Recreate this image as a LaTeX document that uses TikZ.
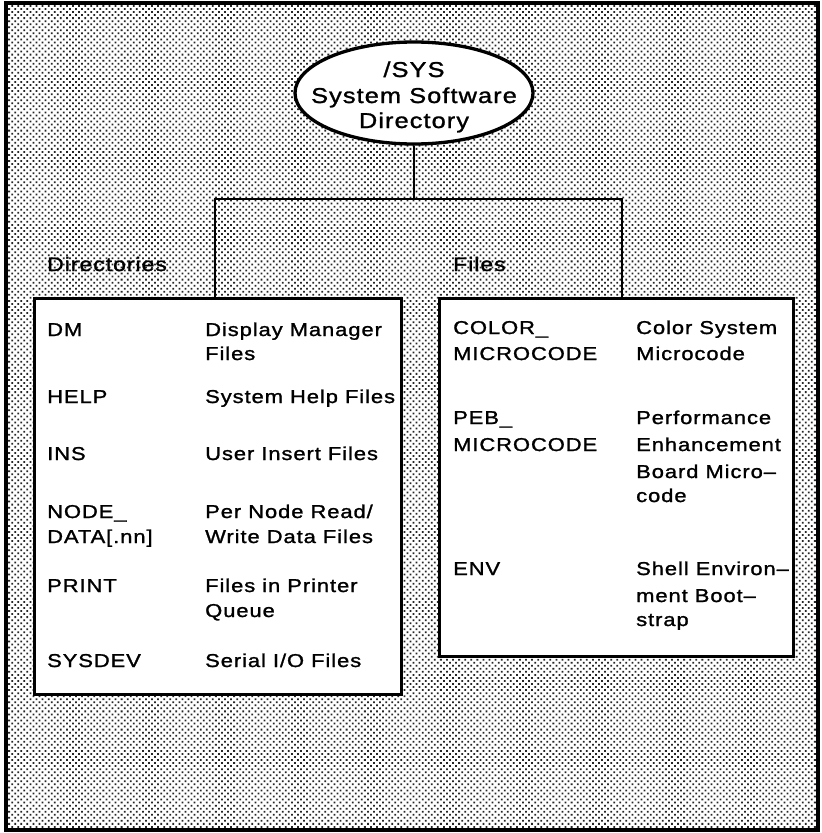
\documentclass[tikz,border=0pt]{standalone}
\usepackage{fontspec}
\setmainfont{Liberation Sans}[FakeStretch=1.18,LetterSpace=5,FakeBold=1.3]
\usetikzlibrary{shapes.geometric,patterns.meta}
\begin{document}
\begin{tikzpicture}[x=1pt,y=-1pt,
  frame/.style={line width=3.3pt,draw=black},
  conn/.style={line width=2.8pt,draw=black},
  txt/.style={anchor=base west,inner sep=0pt,font=\fontsize{18.6}{25}\selectfont},
  ttl/.style={anchor=base,inner sep=0pt,font=\fontsize{21.5}{26}\selectfont},
  lbl/.style={anchor=base west,inner sep=0pt,font=\fontsize{19.5}{25}\selectfont},
  panel/.style={frame,fill=white,rectangle,inner sep=0pt,anchor=north west}]
\useasboundingbox (0,0) rectangle (822,833);
% background
\fill[white] (6,3) rectangle (818,830);
\fill[pattern={Dots[distance=4.3pt,angle=45,radius=1.25pt]},pattern color=black!85] (6,3) rectangle (818,830);
\draw[frame] (6,3) rectangle (818,830);
% top ellipse
\node[ellipse,frame,fill=white,minimum width=238pt,minimum height=102pt,inner sep=0pt] (sys) at (414,93) {};
\node[ttl] (t1) at (414,77) {/SYS};
\node[ttl] (t2) at (414,103) {System Software};
\node[ttl] (t3) at (414,128) {Directory};
% boxes
\node[panel,minimum width=367pt,minimum height=396pt] (dirbox) at (33,297) {};
\node[panel,minimum width=354pt,minimum height=358pt] (filebox) at (438,297) {};
% connectors
\coordinate (bar) at (414,199);
\coordinate (dl) at (215,297);
\coordinate (fl) at (622,297);
\draw[conn] (sys.south) -- (bar);
\draw[conn] (dl) -- (dl |- bar) -- (fl |- bar) -- (fl);
% labels
\node[lbl] (dirlbl) at (47,271) {Directories};
\node[lbl] (filelbl) at (453,271) {Files};
% left box rows
\node[txt] (a1) at (47,336) {DM};
\node[txt] (b1) at (205,336) {Display Manager};
\node[txt] (b1b) at (205,360) {Files};
\node[txt] (a2) at (47,403) {HELP};
\node[txt] (b2) at (205,403) {System Help Files};
\node[txt] (a3) at (47,460) {INS};
\node[txt] (b3) at (205,460) {User Insert Files};
\node[txt] (a4) at (47,518) {NODE\_};
\node[txt] (a4b) at (47,543) {DATA[.nn]};
\node[txt] (b4) at (205,518) {Per Node Read/};
\node[txt] (b4b) at (205,543) {Write Data Files};
\node[txt] (a5) at (47,592) {PRINT};
\node[txt] (b5) at (205,592) {Files in Printer};
\node[txt] (b5b) at (205,617) {Queue};
\node[txt] (a6) at (47,667) {SYSDEV};
\node[txt] (b6) at (205,667) {Serial I/O Files};
% right box rows
\node[txt] (c1) at (453,334) {COLOR\_};
\node[txt] (c1b) at (453,360) {MICROCODE};
\node[txt] (d1) at (636,334) {Color System};
\node[txt] (d1b) at (636,360) {Microcode};
\node[txt] (c2) at (453,424) {PEB\_};
\node[txt] (c2b) at (453,451) {MICROCODE};
\node[txt] (d2) at (636,424) {Performance};
\node[txt] (d2b) at (636,451) {Enhancement};
\node[txt] (d2c) at (636,478) {Board Micro–};
\node[txt] (d2d) at (636,502) {code};
\node[txt] (c3) at (453,575) {ENV};
\node[txt] (d3) at (636,575) {Shell Environ–};
\node[txt] (d3b) at (636,602) {ment Boot–};
\node[txt] (d3c) at (636,626) {strap};
\end{tikzpicture}
\end{document}
